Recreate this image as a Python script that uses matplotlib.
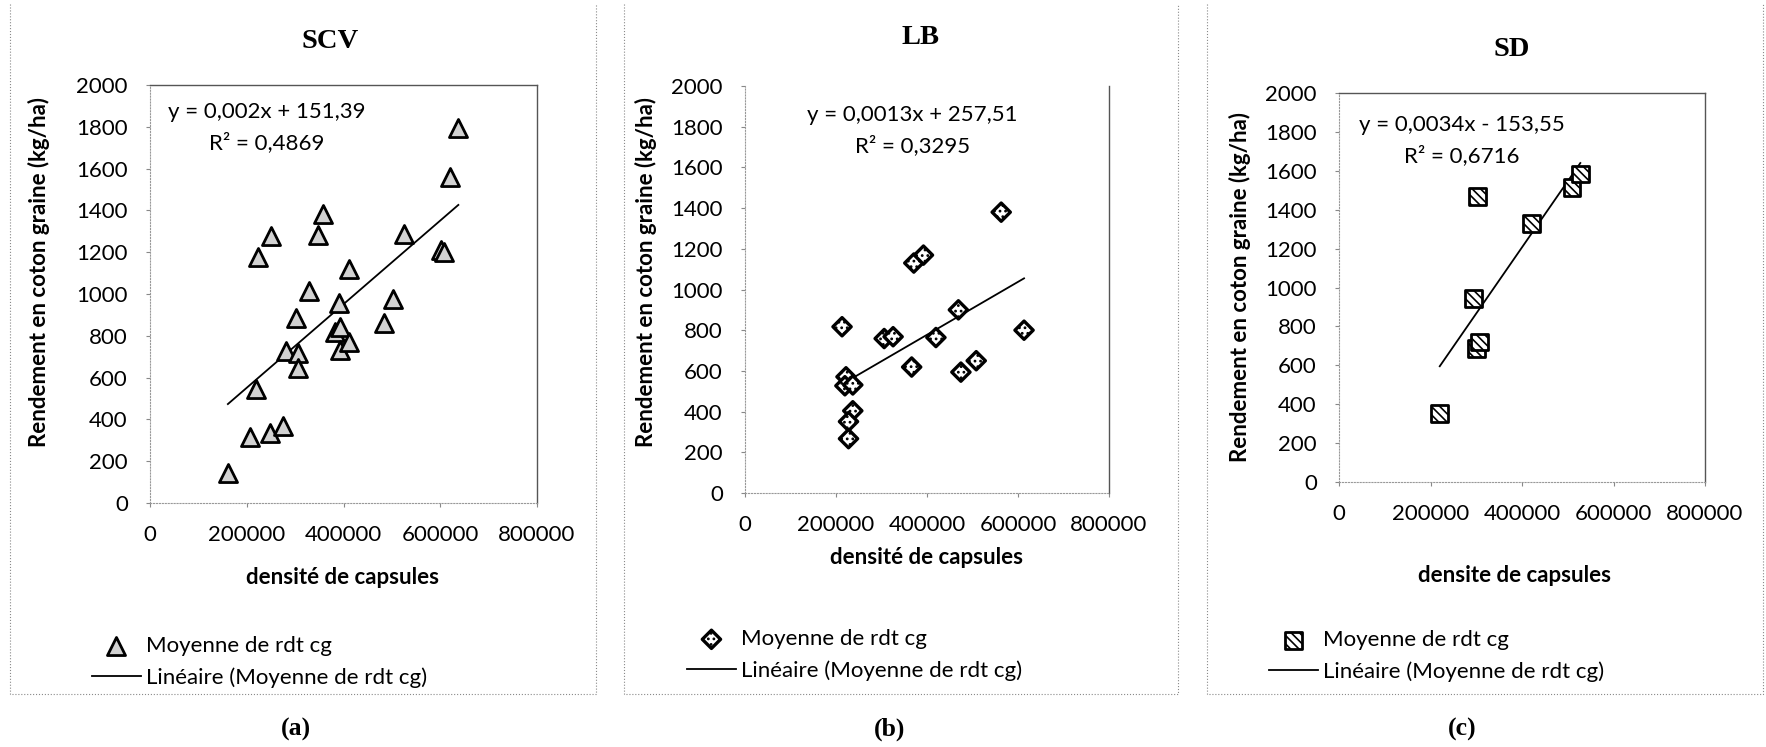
import numpy as np
import matplotlib.pyplot as plt

plt.rcParams['font.family'] = ['Lato', 'DejaVu Sans']
plt.rcParams['hatch.linewidth'] = 1.2

# SCV
scv_x = [161000, 207500, 247400, 275500, 218600, 223800, 251100, 280600,
         305000, 306500, 301300, 329400, 347900, 358200, 390000, 382600,
         392000, 393000, 412100, 410600, 484500, 503000, 524400, 602000,
         608000, 620400, 637400]
scv_y = [145, 316, 333, 367, 546, 1177, 1276, 725, 717, 648, 887, 1015,
         1280, 1382, 956, 819, 840, 734, 768, 1118, 862, 976, 1288, 1212,
         1203, 1561, 1792]

# LB
lb_x = [213300, 222000, 219600, 236900, 236900, 227500, 227500, 305900,
        325500, 366300, 371000, 392200, 419600, 469000, 474500, 508200,
        563100, 613300]
lb_y = [817, 571, 527, 531, 404, 351, 267, 759, 768, 619, 1130, 1169, 764,
        900, 594, 650, 1380, 800]

# SD
sd_x = [220200, 293600, 302800, 300900, 307300, 420200, 509200, 527500]
sd_y = [353, 942, 1469, 686, 719, 1330, 1515, 1583]

# trend lines: slope, intercept, R2, equation
fits = {'SCV': (0.002, 151.39, '0,4869', 'y = 0,002x + 151,39'),
        'LB': (0.0013, 257.51, '0,3295', 'y = 0,0013x + 257,51'),
        'SD': (0.0034, -153.55, '0,6716', 'y = 0,0034x - 153,55')}

FS = 16
W, H = 1766, 747
fig = plt.figure(figsize=(W / 100, H / 100), dpi=100)

# full-figure axes in pixel units for titles, labels and panel frames
bg = fig.add_axes([0, 0, 1, 1])
bg.set_xlim(0, W)
bg.set_ylim(H, 0)
bg.axis('off')


def rect(l, r, t, b):
    return [l / W, 1 - b / H, (r - l) / W, (b - t) / H]


panels = [
    dict(name='SCV', x=scv_x, y=scv_y, box=(150, 537, 85, 503),
         marker='^', ms=13, face='#d2d2d2', hatch=None, lw=2,
         xlabel='densité de capsules', xl=(343, 577), title=(330, 41),
         ylab=(39, 272), eq=(242000, 1873, 1726), letter=(296, 729),
         frame=(10, 596), leg=(92, 662), spines=('top', 'right')),
    dict(name='LB', x=lb_x, y=lb_y, box=(745, 1109, 86, 493),
         marker='D', ms=9.3, face='white', hatch='...', lw=2.4,
         xlabel='densité de capsules', xl=(927, 557), title=(921, 38),
         ylab=(646, 272), eq=(368000, 1859, 1705), letter=(890, 729),
         frame=(624, 1178), leg=(687, 655), spines=('right',)),
    dict(name='SD', x=sd_x, y=sd_y, box=(1339, 1705, 93, 482),
         marker='s', ms=12, face='white', hatch='\\\\\\\\', lw=2,
         xlabel='densite de capsules', xl=(1515, 576), title=(1512, 50),
         ylab=(1240, 287), eq=(269000, 1835, 1678), letter=(1462, 729),
         frame=(1207, 1763), leg=(1269, 656), spines=('top', 'right')),
]

for i, p in enumerate(panels):
    ax = fig.add_axes(rect(*p['box']))
    ax.set_xlim(0, 800000)
    ax.set_ylim(0, 2000)
    ax.set_xticks(np.arange(0, 800001, 200000))
    ax.set_yticks(np.arange(0, 2001, 200))
    ax.tick_params(labelsize=FS, length=3, color='#888888', pad=13)
    for side in ['top', 'right', 'left', 'bottom']:
        sp = ax.spines[side]
        if side in p['spines']:
            sp.set_color('#555555')
            sp.set_linewidth(1.0)
        elif side in ('left', 'bottom'):
            sp.set_color('#999999')
            sp.set_linewidth(0.8)
            sp.set_linestyle(':')
        else:
            sp.set_visible(False)

    slope, icpt, r2, eq = fits[p['name']]
    pts = ax.scatter(p['x'], p['y'], marker=p['marker'], s=p['ms'] ** 2,
                     facecolor=p['face'], edgecolor='black',
                     linewidths=p['lw'], hatch=p['hatch'], zorder=3,
                     label='Moyenne de rdt cg')
    xs = np.array([min(p['x']), max(p['x'])])
    line, = ax.plot(xs, slope * xs + icpt, color='black', lw=1.3, zorder=2,
                    label='Linéaire (Moyenne de rdt cg)')

    ex, ey1, ey2 = p['eq']
    ax.text(ex, ey1, eq, ha='center', va='center', fontsize=FS)
    ax.text(ex, ey2, 'R² = ' + r2, ha='center', va='center', fontsize=FS)

    lx, ly = p['leg']
    ax.legend(handles=[pts, line], loc='center left',
              bbox_to_anchor=(lx / W, 1 - ly / H),
              bbox_transform=fig.transFigure, frameon=False, borderpad=0,
              borderaxespad=0, handlelength=2.2, handletextpad=0.22,
              labelspacing=0.5, scatterpoints=1, fontsize=FS)

    bg.text(*p['title'], p['name'], ha='center', va='center', fontsize=20.5,
            fontweight='bold', family='Liberation Serif')
    bg.text(*p['xl'], p['xlabel'], ha='center', va='center', fontsize=FS,
            fontweight='bold')
    bg.text(*p['ylab'], 'Rendement en coton graine (kg/ha)', ha='center',
            va='center', rotation=90, fontsize=FS, fontweight='bold')
    bg.text(*p['letter'], '(' + 'abc'[i] + ')', ha='center', va='center',
            fontsize=18.5, fontweight='bold', family='Liberation Serif')

    fl, fr = p['frame']
    bg.plot([fl, fl, fr, fr], [4, 694, 694, 4], color='#8a8a8a', lw=0.8,
            ls=':')

fig.savefig('out.png', dpi=100)
